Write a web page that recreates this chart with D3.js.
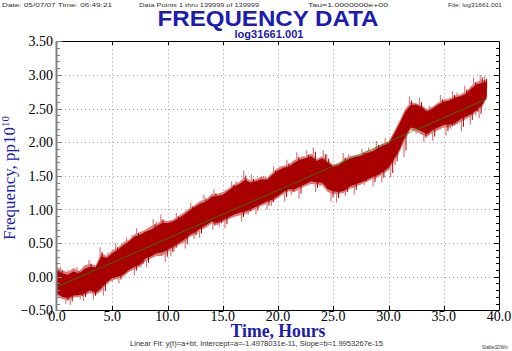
<!DOCTYPE html>
<html><head><meta charset="utf-8">
<script src="https://cdn.jsdelivr.net/npm/d3@7"></script>
<style>body{margin:0;background:#fff}svg{display:block}</style>
</head><body>
<script>
// ---- data (pp10^10 vs hours) ----
const hours = [0,0.5,1,1.5,2,2.5,3,3.5,4,4.5,5,5.5,6,6.5,7,7.5,8,8.5,9,9.5,10,10.5,11,11.5,12,12.5,13,13.5,14,14.5,15,15.5,16,16.5,17,17.5,18,18.5,19,19.5,20,20.5,21,21.5,22,22.5,23,23.5,24,24.5,25,25.5,26,26.5,27,27.5,28,28.5,29,29.5,30,30.5,31,31.5,32,32.5,33,33.5,34,34.5,35,35.5,36,36.5,37,37.5,38,38.5,38.9];
const coreHi = [0.10,0.05,0.03,0.08,0.05,0.12,0.15,0.14,0.30,0.28,0.35,0.40,0.47,0.52,0.60,0.62,0.67,0.70,0.75,0.80,0.80,0.82,0.87,0.92,0.99,1.04,1.09,1.12,1.19,1.20,1.22,1.28,1.34,1.38,1.44,1.40,1.42,1.45,1.44,1.52,1.58,1.62,1.64,1.70,1.74,1.76,1.79,1.72,1.76,1.70,1.64,1.66,1.72,1.76,1.78,1.80,1.84,1.86,1.91,1.95,1.98,2.12,2.28,2.45,2.55,2.56,2.52,2.46,2.50,2.56,2.60,2.62,2.66,2.68,2.72,2.80,2.86,2.88,2.90];
const coreLo = [-0.25,-0.30,-0.32,-0.28,-0.27,-0.25,-0.20,-0.24,-0.17,-0.08,-0.02,0.00,0.03,0.10,0.15,0.18,0.27,0.30,0.35,0.36,0.40,0.45,0.50,0.55,0.62,0.66,0.72,0.77,0.82,0.80,0.84,0.88,0.92,0.95,0.97,1.00,1.04,1.08,1.12,1.15,1.20,1.26,1.30,1.30,1.34,1.38,1.42,1.40,1.40,1.30,1.27,1.26,1.28,1.34,1.37,1.40,1.44,1.48,1.51,1.56,1.62,1.75,1.89,2.08,2.22,2.20,2.16,2.12,2.18,2.22,2.26,2.26,2.28,2.34,2.38,2.42,2.48,2.56,2.68];
const outerHi = [0.14,0.09,0.07,0.13,0.08,0.17,0.19,0.17,0.35,0.31,0.39,0.43,0.51,0.55,0.63,0.66,0.70,0.75,0.78,0.84,0.83,0.85,0.90,0.96,1.02,1.07,1.13,1.15,1.23,1.23,1.26,1.31,1.37,1.41,1.48,1.43,1.45,1.49,1.47,1.55,1.62,1.65,1.67,1.74,1.77,1.79,1.83,1.75,1.79,1.73,1.67,1.69,1.75,1.79,1.81,1.83,1.87,1.89,1.94,1.98,2.01,2.16,2.32,2.49,2.59,2.58,2.55,2.49,2.53,2.59,2.63,2.65,2.69,2.71,2.75,2.84,2.90,2.92,2.92];
const outerLo = [-0.28,-0.33,-0.35,-0.31,-0.30,-0.28,-0.24,-0.27,-0.21,-0.11,-0.05,-0.03,0.00,0.07,0.11,0.15,0.23,0.27,0.31,0.31,0.36,0.42,0.47,0.51,0.59,0.63,0.69,0.73,0.79,0.77,0.81,0.85,0.89,0.91,0.93,0.97,1.01,1.05,1.09,1.12,1.17,1.23,1.27,1.26,1.31,1.35,1.38,1.37,1.36,1.26,1.23,1.23,1.25,1.31,1.33,1.37,1.41,1.45,1.47,1.53,1.58,1.71,1.85,2.04,2.18,2.16,2.11,2.08,2.14,2.18,2.22,2.22,2.25,2.30,2.34,2.39,2.45,2.53,2.65];
// isolated spikes (hour, value) seen beyond the band
const spikeHours = [0.3,1.8,2.9,3.9,5.3,6.3,7.2,8.7,9.4,10.8,12.1,13.3,14.2,15.8,16.9,17.6,19.6,20.8,21.7,22.6,23.2,24.1,25.9,27.6,28.9,29.7,31.3,31.9,32.8,34.7,35.8,36.9,37.7,38.3,38.7,
  0.8,1.2,2.4,3.3,4.2,5.6,7.0,8.1,9.8,10.3,11.6,12.9,14.1,15.2,16.7,18.0,19.0,20.6,21.9,23.4,24.8,25.3,26.9,28.6,29.4,30.2,31.4,33.2,34.0,35.2,36.6,37.4,38.2,
  1.0,4.6,6.8,9.0,11.2,13.8,16.2,18.7,20.2,22.2,24.4,26.4,28.2,30.7,33.7,36.2,38.5,
  0.4,2.1,5.0,7.6,10.6,12.4,14.7,17.3,19.4,21.2,23.8,26.1,27.8,30.6,32.5,35.6,37.9];
const spikeVals = [0.15,0.14,0.25,0.44,0.50,0.58,0.72,0.86,0.92,0.95,1.10,1.22,1.30,1.42,1.58,1.52,1.64,1.74,1.85,1.88,1.92,1.88,1.84,1.90,2.02,2.06,2.40,2.68,2.66,2.70,2.76,2.84,2.96,3.00,2.98,
  -0.40,-0.42,-0.36,-0.34,-0.28,-0.10,0.02,0.14,0.22,0.30,0.42,0.58,0.70,0.72,0.82,0.92,1.00,1.12,1.16,1.26,1.12,1.10,1.22,1.34,1.40,1.48,1.78,2.00,2.02,2.10,2.16,2.26,2.36,
  0.10,0.36,0.62,0.82,0.93,1.20,1.42,1.50,1.64,1.80,1.82,1.82,1.92,2.20,2.54,2.74,2.97,
  -0.33,-0.33,-0.07,0.14,0.38,0.56,0.75,0.92,1.05,1.22,1.34,1.20,1.36,1.66,2.13,2.20,2.40];
// linear fit from the caption: a = -1.4978031e-11, b = 1.9953267e-15 /s
const fitIntercept = -1.4978031e-11;
const fitSlopePerSec = 1.9953267e-15;
const fitSpan = [0, 38.9];
const yTicks = [-0.5,0,0.5,1,1.5,2,2.5,3,3.5];
const xTicks = [0,5,10,15,20,25,30,35,40];

const W = 512, H = 351;
const svg = d3.select("body").append("svg").attr("width", W).attr("height", H);
svg.append("rect").attr("width", W).attr("height", H).attr("fill", "#fff");

const x = d3.scaleLinear().domain([0, 40]).range([57, 499]);
const y = d3.scaleLinear().domain([-0.5, 3.5]).range([310.4, 41.3]);

// grid
const grid = svg.append("g").attr("stroke", "#a0a0a0").attr("stroke-width", 1).attr("stroke-dasharray", "1,3");
yTicks.slice(1, -1).forEach(v => grid.append("line").attr("x1", x(0)).attr("x2", x(40)).attr("y1", Math.round(y(v)) + 0.5).attr("y2", Math.round(y(v)) + 0.5));
xTicks.slice(1, -1).forEach(v => grid.append("line").attr("y1", y(3.5)).attr("y2", y(-0.5)).attr("x1", Math.round(x(v)) + 0.5).attr("x2", Math.round(x(v)) + 0.5));

// data
const pts = hours.map((h, i) => ({h, ch: coreHi[i], cl: coreLo[i], oh: outerHi[i], ol: outerLo[i]}));
const nearest = h => pts[d3.minIndex(pts, p => Math.abs(p.h - h))];
const spikes = spikeHours.map((h, i) => ({h, v: spikeVals[i]}));
// spikes (pink) from band middle out to the spike value
svg.append("g").attr("stroke", "#d97b7b").attr("stroke-width", 1.2)
  .selectAll("line").data(spikes).join("line")
  .attr("x1", d => x(d.h)).attr("x2", d => x(d.h))
  .attr("y1", d => { const p = nearest(d.h); return y((p.ch + p.cl) / 2); })
  .attr("y2", d => y(d.v));
svg.append("path").datum(pts).attr("fill", "#d97b7b")
  .attr("d", d3.area().x(d => x(d.h)).y0(d => y(d.ol)).y1(d => y(d.oh)));
svg.append("path").datum(pts).attr("fill", "#a80000")
  .attr("d", d3.area().x(d => x(d.h)).y0(d => y(d.cl)).y1(d => y(d.ch)));
// darker inner part of the spikes
svg.append("g").attr("stroke", "#a80000").attr("stroke-width", 1)
  .selectAll("line").data(spikes).join("line")
  .attr("x1", d => x(d.h) + 2).attr("x2", d => x(d.h) + 2)
  .attr("y1", d => { const p = nearest(d.h); return y((p.ch + p.cl) / 2); })
  .attr("y2", d => { const p = nearest(d.h); const m = (p.ch + p.cl) / 2; return y(m + (d.v - m) * 0.8); });

// fit line
const fitVal = h => (fitIntercept + fitSlopePerSec * h * 3600) * 1e10;
svg.append("line").attr("x1", x(fitSpan[0])).attr("y1", y(fitVal(fitSpan[0])))
  .attr("x2", x(fitSpan[1])).attr("y2", y(fitVal(fitSpan[1])))
  .attr("stroke", "#00b000").attr("stroke-opacity", 0.6).attr("stroke-width", 1);

// axes frame
svg.append("line").attr("x1", 57).attr("x2", 499.5).attr("y1", 41.5).attr("y2", 41.5).attr("stroke", "#000");
svg.append("line").attr("x1", 499.5).attr("x2", 499.5).attr("y1", 41.5).attr("y2", 310.5).attr("stroke", "#000");
svg.append("line").attr("x1", 56).attr("x2", 499.5).attr("y1", 310.5).attr("y2", 310.5).attr("stroke", "#000");
svg.append("line").attr("x1", 56.5).attr("x2", 56.5).attr("y1", 41).attr("y2", 311).attr("stroke", "#808080").attr("stroke-width", 2);

// minor/major ticks on y
const tk = svg.append("g").attr("stroke", "#000").attr("stroke-width", 1);
d3.range(0, 41).forEach(i => {
  const v = -0.5 + i * 0.1;
  const yy = Math.round(y(v)) + 0.5;
  const len = (i % 5 === 0) ? 5 : 3;
  tk.append("line").attr("x1", 57).attr("x2", 57 + len).attr("y1", yy).attr("y2", yy).attr("stroke", "#808080");
  tk.append("line").attr("x1", 499).attr("x2", 499 - len).attr("y1", yy).attr("y2", yy);
});
xTicks.slice(1, -1).forEach(v => {
  const xx = Math.round(x(v)) + 0.5;
  tk.append("line").attr("x1", xx).attr("x2", xx).attr("y1", 41).attr("y2", 45);
  tk.append("line").attr("x1", xx).attr("x2", xx).attr("y1", 310).attr("y2", 306);
});

// tick labels
const serif = "'Liberation Serif','Times New Roman',serif";
const sans = "'Liberation Sans',Arial,sans-serif";
svg.append("g").selectAll("text").data(yTicks).join("text")
  .attr("x", 53).attr("y", d => y(d)).attr("dy", "0.36em").attr("text-anchor", "end")
  .attr("font-family", serif).attr("font-size", 14).attr("fill", "#000").text(d3.format(".2f"));
svg.append("g").selectAll("text").data(xTicks).join("text")
  .attr("x", d => x(d)).attr("y", 321).attr("text-anchor", "middle")
  .attr("font-family", serif).attr("font-size", 14).attr("fill", "#000").text(d3.format(".1f"));

// titles
const blue = "#1c1cae";
svg.append("text").attr("x", 268).attr("y", 26).attr("text-anchor", "middle")
  .attr("font-family", sans).attr("font-weight", "bold").attr("font-size", 22).attr("fill", blue)
  .attr("textLength", 221).attr("lengthAdjust", "spacingAndGlyphs").text("FREQUENCY DATA");
svg.append("text").attr("x", 269).attr("y", 37.5).attr("text-anchor", "middle")
  .attr("font-family", sans).attr("font-weight", "bold").attr("font-size", 11).attr("fill", blue)
  .attr("textLength", 69).attr("lengthAdjust", "spacingAndGlyphs").text("log31661.001");
svg.append("text").attr("x", 278).attr("y", 337).attr("text-anchor", "middle")
  .attr("font-family", serif).attr("font-weight", "bold").attr("font-size", 18).attr("fill", blue)
  .attr("textLength", 95).attr("lengthAdjust", "spacingAndGlyphs").text("Time, Hours");
const yl = svg.append("text").attr("transform", "translate(15,178) rotate(-90)").attr("text-anchor", "middle")
  .attr("font-family", serif).attr("font-size", 17).attr("fill", blue);
yl.append("tspan").text("Frequency, pp10");
yl.append("tspan").attr("dy", -6).attr("font-size", 11).text("10");

// header / footer small text
const small = (t, x0, y0, len, fs) => svg.append("text").attr("x", x0).attr("y", y0)
  .attr("font-family", sans).attr("font-size", fs || 6).attr("fill", "#333")
  .attr("textLength", len).attr("lengthAdjust", "spacingAndGlyphs").text(t);
small("Date: 05/07/07  Time: 06:49:21", 2, 6.5, 110);
small("Data Points 1 thru 139999 of 139999", 139, 6.5, 120);
small("Tau=1.0000000e+00", 308, 6.5, 80);
small("File: log31661.001", 448, 6.5, 54);
small("Linear Fit: y(t)=a+bt, Intercept=a=-1.4978031e-11, Slope=b=1.9953267e-15", 130, 346, 253, 6.5);
small("Stable32/Win", 482, 349, 26, 5);
</script>
</body></html>
